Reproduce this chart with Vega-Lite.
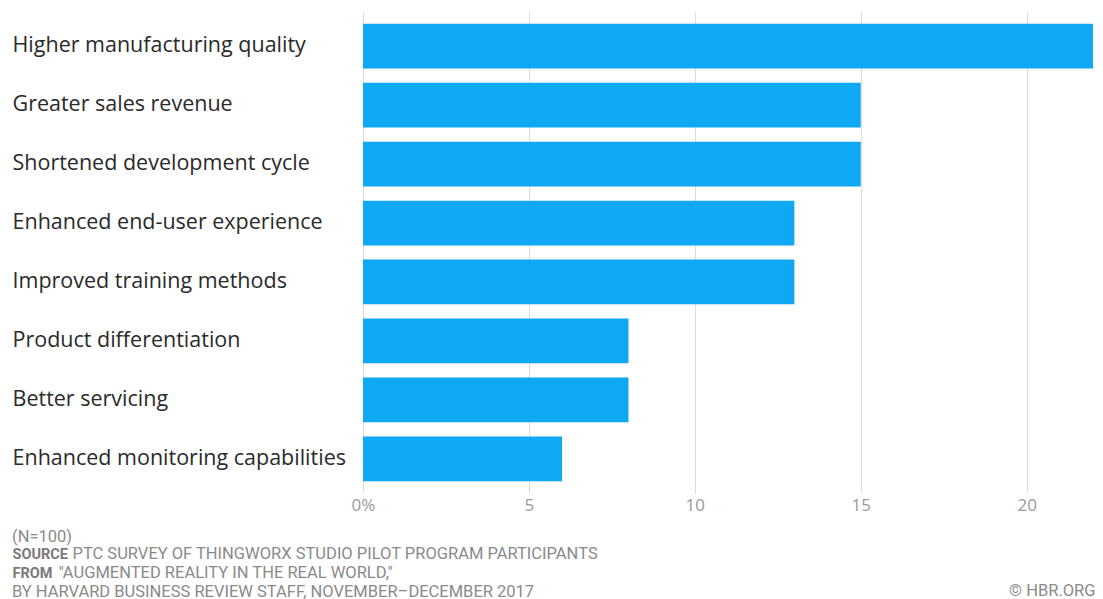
{
  "$schema": "https://vega.github.io/schema/vega-lite/v6.json",
  "width": 730,
  "height": 481,
  "autosize": {"type": "none"},
  "padding": {"left": 363, "top": 12, "right": 10, "bottom": 106},
  "background": "white",
  "config": {"view": {"stroke": null}},
  "title": {
    "text": "(N=100)",
    "subtitle": "BY HARVARD BUSINESS REVIEW STAFF, NOVEMBER–DECEMBER 2017",
    "orient": "top",
    "anchor": "start",
    "frame": "group",
    "offset": 0,
    "dx": -351,
    "dy": 588,
    "font": "Roboto",
    "fontSize": 16.5,
    "fontWeight": "normal",
    "color": "#8a8a8a",
    "subtitleFont": "Roboto",
    "subtitleFontSize": 16.5,
    "subtitleFontWeight": "normal",
    "subtitleColor": "#8a8a8a",
    "subtitlePadding": 38.5
  },
  "data": {
    "values": [
      {"item": "Higher manufacturing quality", "pct": 22},
      {"item": "Greater sales revenue", "pct": 15},
      {"item": "Shortened development cycle", "pct": 15},
      {"item": "Enhanced end-user experience", "pct": 13},
      {"item": "Improved training methods", "pct": 13},
      {"item": "Product differentiation", "pct": 8},
      {"item": "Better servicing", "pct": 8},
      {"item": "Enhanced monitoring capabilities", "pct": 6}
    ]
  },
  "layer": [
    {
      "mark": {"type": "bar", "color": "#0ea8f5"},
      "encoding": {
        "x": {
          "field": "pct",
          "type": "quantitative",
          "scale": {"domain": [0, 22], "nice": false},
          "axis": {
            "orient": "bottom",
            "values": [0, 5, 10, 15, 20],
            "labelExpr": "datum.value == 0 ? '0%' : datum.label",
            "grid": true,
            "gridColor": "#dcdcdc",
            "gridWidth": 1,
            "domain": false,
            "ticks": false,
            "labelPadding": 4,
            "labelFont": "Open Sans",
            "labelFontSize": 17,
            "labelColor": "#9a9a9a",
            "labelFlush": false,
            "title": "\"AUGMENTED REALITY IN THE REAL WORLD,\"",
            "titleX": -305,
            "titleY": 84,
            "titleAlign": "left",
            "titleBaseline": "alphabetic",
            "titleFont": "Roboto",
            "titleFontSize": 16.5,
            "titleFontWeight": "normal",
            "titleColor": "#8a8a8a"
          }
        },
        "y": {
          "field": "item",
          "type": "nominal",
          "sort": null,
          "scale": {"paddingInner": 0.24, "paddingOuter": 0.2},
          "axis": {
            "orient": "left",
            "domain": false,
            "ticks": false,
            "labelAlign": "left",
            "labelPadding": 351,
            "labelLimit": 500,
            "labelFont": "Open Sans",
            "labelFontSize": 21.5,
            "labelColor": "#2a2a2a",
            "title": "© HBR.ORG",
            "titleAngle": 0,
            "titleX": 732,
            "titleY": 583,
            "titleAlign": "right",
            "titleBaseline": "alphabetic",
            "titleFont": "Roboto",
            "titleFontSize": 16.5,
            "titleFontWeight": "normal",
            "titleColor": "#8a8a8a"
          }
        }
      }
    },
    {
      "mark": {"type": "bar", "opacity": 0},
      "encoding": {
        "x": {
          "field": "pct",
          "type": "quantitative",
          "axis": {
            "orient": "top",
            "labels": false,
            "ticks": false,
            "domain": false,
            "grid": false,
            "title": ["SOURCE", "FROM"],
            "titleX": -351,
            "titleY": 546.5,
            "titleAlign": "left",
            "titleBaseline": "alphabetic",
            "titleFont": "Roboto",
            "titleFontSize": 14.5,
            "titleFontWeight": "bold",
            "titleColor": "#7a7a7a",
            "titleLineHeight": 18.5
          }
        },
        "y": {
          "field": "item",
          "type": "nominal",
          "sort": null,
          "axis": {
            "orient": "right",
            "labels": false,
            "ticks": false,
            "domain": false,
            "grid": false,
            "title": "PTC SURVEY OF THINGWORX STUDIO PILOT PROGRAM PARTICIPANTS",
            "titleAngle": 0,
            "titleX": -1021,
            "titleY": 546.5,
            "titleAlign": "left",
            "titleBaseline": "alphabetic",
            "titleFont": "Roboto",
            "titleFontSize": 16.5,
            "titleFontWeight": "normal",
            "titleColor": "#8a8a8a"
          }
        }
      }
    }
  ],
  "resolve": {"axis": {"x": "independent", "y": "independent"}}
}
